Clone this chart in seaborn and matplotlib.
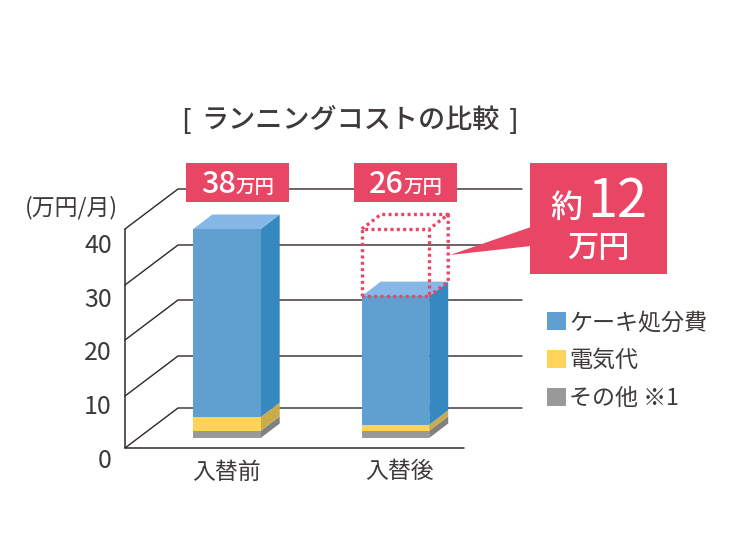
import matplotlib
matplotlib.use("Agg")
import matplotlib.pyplot as plt
import pandas as pd
import seaborn as sns
from matplotlib.patches import Patch, Polygon, Rectangle

# values (万円/月)
categories = ["入替前", "入替後"]
other = [1.3, 1.3]
power = [2.5, 1.1]
cake = [34.2, 23.4]
totals = ["38", "26"]
y_ticks = ["0", "10", "20", "30", "40"]
series_names = ["ケーキ処分費", "電気代", "その他 ※1"]

W, H = 740, 560
PINK = "#e94565"
TEXT = "#3e3a39"
LINE = "#2f2725"
BLUE = ("#5fa0d0", "#3689c0", "#85b8e6")
YELLOW = ("#ffd258", "#c9ab4b")
GREY = ("#999999", "#808080")

sns.set_theme(style="white")
plt.rcParams["font.family"] = ["Noto Sans CJK JP", "DejaVu Sans"]

df = pd.DataFrame({"cat": categories, "other": other, "power": power, "cake": cake})
df["c1"] = df["other"]
df["c2"] = df["c1"] + df["power"]
df["c3"] = df["c2"] + df["cake"]

fig = plt.figure(figsize=(W / 100, H / 100), dpi=100, facecolor="white")
ax = fig.add_axes([0, 0, 1, 1])


def P(x, y):
    # picture pixels to figure fraction
    return x / W, 1 - y / H


def line(xs, ys, **kw):
    pts = [P(x, y) for x, y in zip(xs, ys)]
    ax.plot([p[0] for p in pts], [p[1] for p in pts], transform=fig.transFigure,
            clip_on=False, **kw)


def box(x0, y0, x1, y1, color, z=7):
    ax.add_patch(Rectangle(P(x0, y1), (x1 - x0) / W, (y1 - y0) / H, transform=fig.transFigure,
                           facecolor=color, edgecolor="none", zorder=z))


def label(x, y, s, size, color=TEXT, ha="center", va="center", z=8, **kw):
    px, py = P(x, y)
    ax.text(px, py, s, fontsize=size, color=color, ha=ha, va=va, zorder=z,
            transform=fig.transFigure, **kw)


# stacked front faces, tallest first so the shorter ones sit on top
for col, c in [("c3", BLUE[0]), ("c2", YELLOW[0]), ("c1", GREY[0])]:
    sns.barplot(data=df, x="cat", y=col, color=c, saturation=1, width=0.4, ax=ax, zorder=4,
                linewidth=0)

ax.set_xlim(-227 / 168.5, (W - 227) / 168.5)
ax.set_ylim(-(H - 438) / 5.5, 438 / 5.5)
ax.set_axis_off()

# depth of the fake 3d boxes in data units
dx = 19 / 168.5
dy = 14.5 / 5.5
half = 0.2

for i in df.index:
    r = i + half
    l = i - half
    levels = [0, df.c1[i], df.c2[i], df.c3[i]]
    for lo, hi, c in zip(levels[:-1], levels[1:], [GREY[1], YELLOW[1], BLUE[1]]):
        ax.add_patch(Polygon([(r, lo), (r + dx, lo + dy), (r + dx, hi + dy), (r, hi)],
                             facecolor=c, edgecolor="none", zorder=3.5))
    top = levels[-1]
    ax.add_patch(Polygon([(l, top), (l + dx, top + dy), (r + dx, top + dy), (r, top)],
                         facecolor=BLUE[2], edgecolor="none", zorder=3.5))

# dotted outline of the old cost on the new bar
old = df.c3[0]
new = df.c3[1]
l, r = 1 - half, 1 + half
dots = dict(color=PINK, lw=2.4, linestyle=(0, (0.9, 1.0)), zorder=6)
ax.plot([l, l, r, r, l], [new, old, old, new, new], **dots)
ax.plot([l, l + dx, r + dx, r], [old, old + dy, old + dy, old], **dots)
ax.plot([r + dx, r + dx, r], [old + dy, new + dy, new], **dots)

# back wall and side wall lines
front = [448, 396, 340, 285, 229]
for i, y in enumerate(front):
    line([125, 178, 522], [y, y - 40, y - 40], color=LINE, lw=1.0, zorder=2, solid_joinstyle="miter")
    label(112, 461 - i * 53.75, y_ticks[i], 18, ha="right")
line([125, 125, 464], [229, 448, 448], color=LINE, lw=1.1, zorder=2)

# category names
for x, c in zip([227, 400], categories):
    label(x, 472, c, 16.5)

label(186, 121, "[", 19.5, fontweight="medium")
label(350, 120, "ランニングコストの比較", 19.5, fontweight="medium")
label(514, 121, "]", 19.5, fontweight="medium")
label(71, 208, "(万円/月)", 16.5)

# total tags
for x0, t in zip([186, 354], totals):
    box(x0, 163, x0 + 103, 202.5, PINK)
    label(x0 + 15, 185, t, 22, color="white", ha="left", fontweight="medium")
    label(x0 + 50, 187.5, "万円", 14, color="white", ha="left", fontweight="medium")

# savings callout
box(530, 163, 667, 274, PINK)
ax.add_patch(Polygon([P(531, 227), P(531, 246), P(450, 255)], closed=True, transform=fig.transFigure,
                     facecolor=PINK, edgecolor="none", zorder=7))
label(566, 208, "約", 23, color="white", fontweight="medium")
label(617, 201, "12", 39, color="white")
label(598, 248, "万円", 22.5, color="white", fontweight="medium")

handles = [Patch(facecolor=c, edgecolor="none") for c in (BLUE[0], YELLOW[0], GREY[0])]
ax.legend(handles, series_names, loc="upper left", bbox_to_anchor=P(547, 311),
          bbox_transform=fig.transFigure, frameon=False, fontsize=16.6, labelcolor=TEXT,
          handlelength=0.84, handleheight=0.84, handletextpad=0.12, labelspacing=0.65,
          borderpad=0, borderaxespad=0)

fig.savefig("out.png", dpi=100)
plt.close(fig)
